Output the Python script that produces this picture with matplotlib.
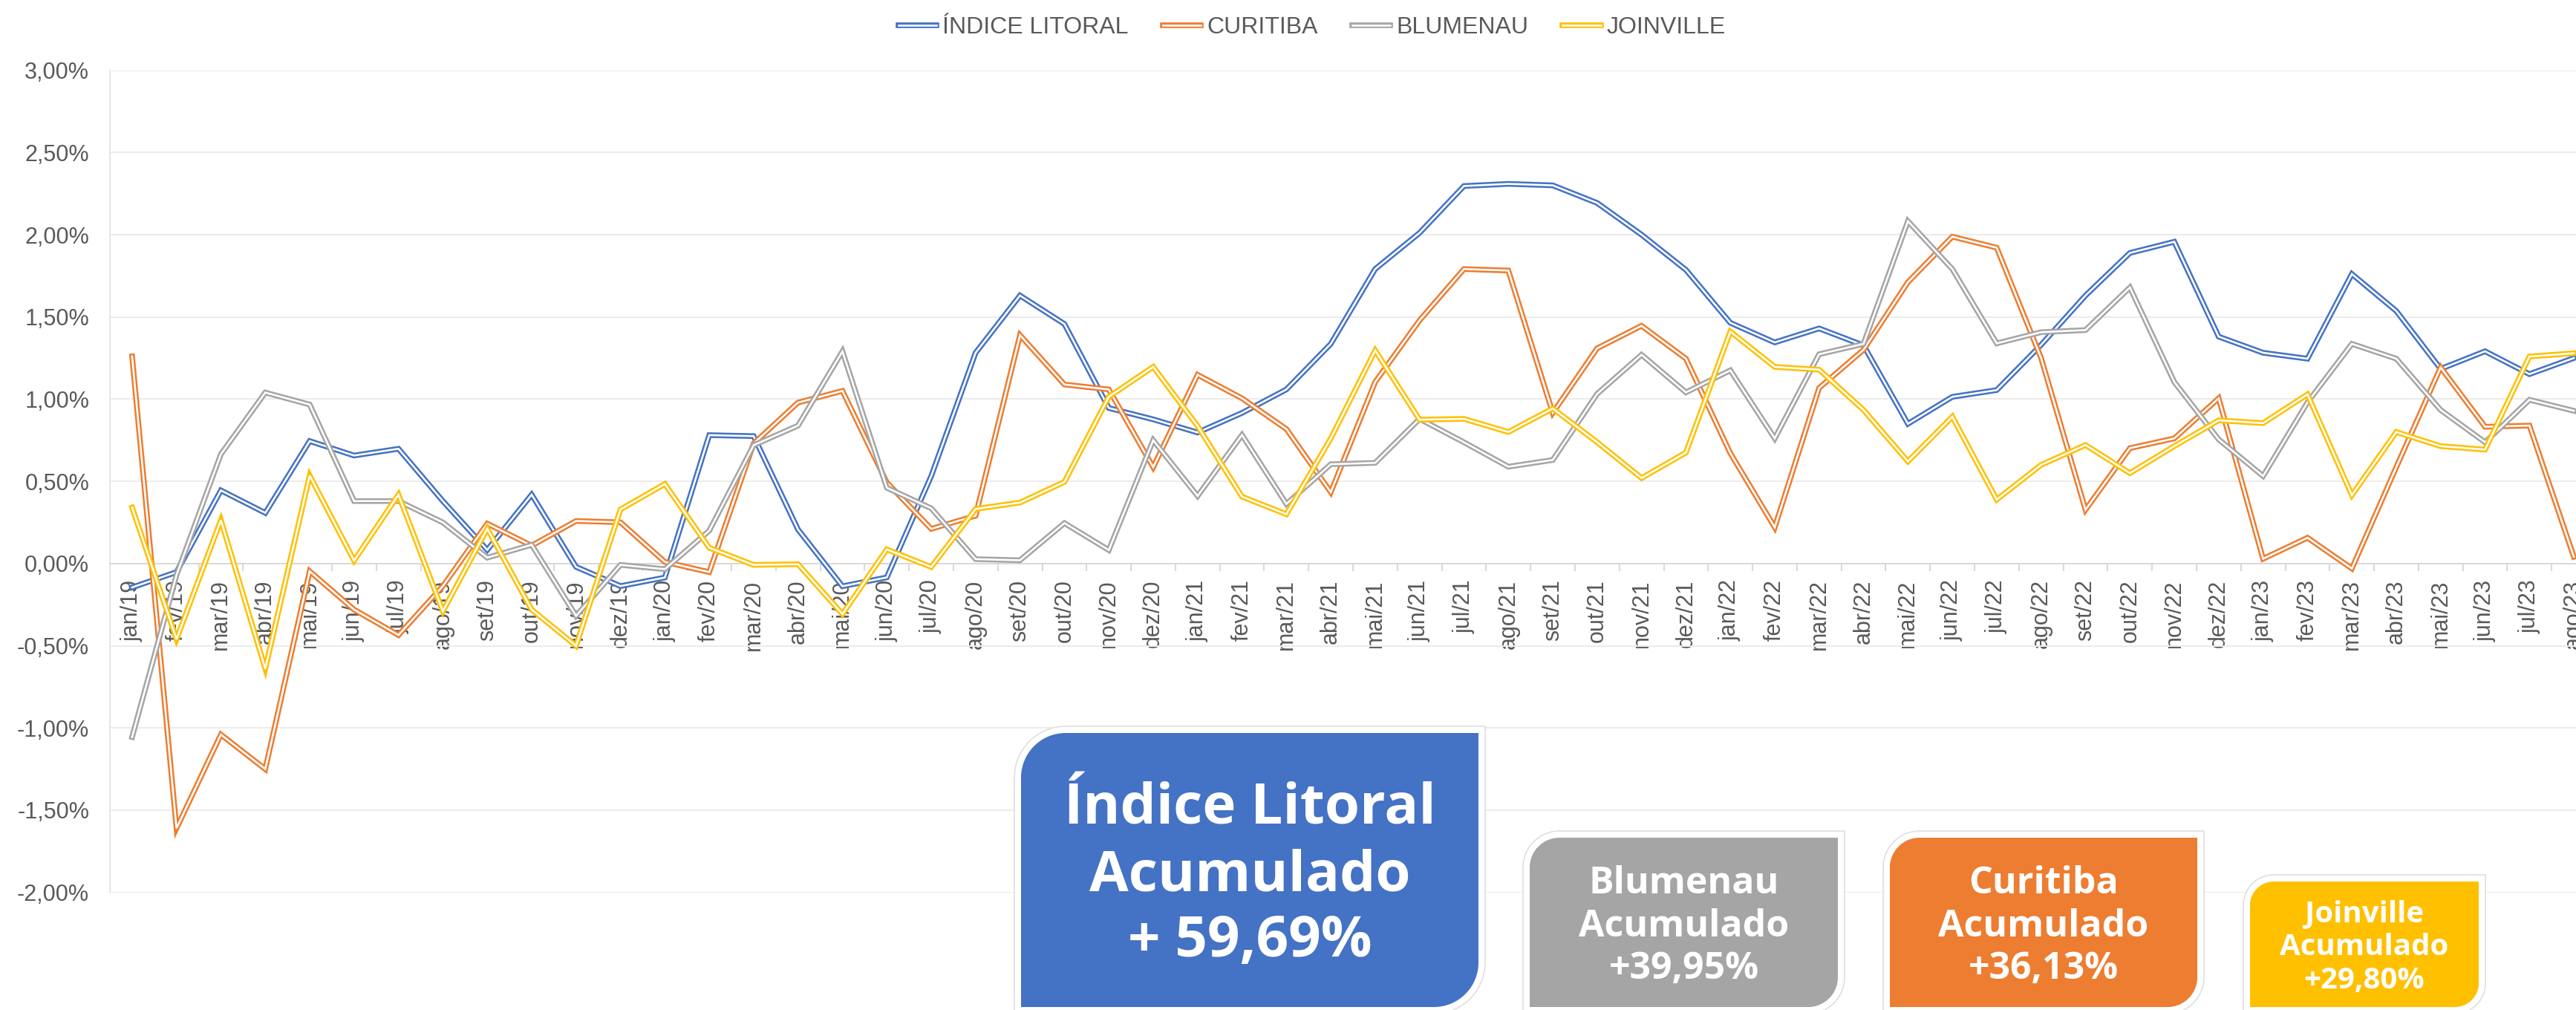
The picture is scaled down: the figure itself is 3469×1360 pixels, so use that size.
import matplotlib
matplotlib.use("Agg")
import matplotlib.pyplot as plt
from matplotlib.lines import Line2D
from matplotlib.path import Path
from matplotlib.patches import PathPatch
import numpy as np

plt.rcParams['font.family'] = ['Liberation Sans', 'DejaVu Sans']

# ---------------- data ----------------
meses = ["jan", "fev", "mar", "abr", "mai", "jun", "jul", "ago", "set", "out", "nov", "dez"]
anos = ["19", "20", "21", "22", "23"]
categorias = [f"{m}/{a}" for a in anos for m in meses][:56]   # jan/19 .. ago/23

indice_litoral = [-0.145, -0.052, 0.445, 0.308, 0.745, 0.657, 0.698, 0.38, 0.083, 0.419,
                  -0.02, -0.137, -0.085, 0.781, 0.775, 0.207, -0.138, -0.084, 0.532, 1.282,
                  1.63, 1.457, 0.946, 0.877, 0.797, 0.916, 1.059, 1.336, 1.791, 2.011,
                  2.296, 2.309, 2.30, 2.193, 2.00, 1.786, 1.464, 1.345, 1.43, 1.327,
                  0.85, 1.014, 1.055, 1.33, 1.63, 1.889, 1.957, 1.38, 1.282, 1.246,
                  1.761, 1.536, 1.184, 1.291, 1.152, 1.25]
curitiba = [1.26, -1.61, -1.04, -1.25, -0.047, -0.28, -0.435, -0.137, 0.243, 0.109,
            0.259, 0.251, 0.01, -0.052, 0.73, 0.979, 1.05, 0.493, 0.211, 0.291,
            1.389, 1.089, 1.059, 0.586, 1.148, 1.005, 0.818, 0.434, 1.104, 1.479,
            1.791, 1.782, 0.916, 1.309, 1.446, 1.246, 0.671, 0.22, 1.068, 1.30,
            1.711, 1.988, 1.921, 1.25, 0.327, 0.702, 0.761, 1.005, 0.029, 0.157,
            -0.03, 0.586, 1.193, 0.832, 0.839, 0.041]
blumenau = [-1.055, -0.07, 0.665, 1.04, 0.967, 0.38, 0.38, 0.25, 0.036, 0.114,
            -0.318, -0.008, -0.034, 0.20, 0.72, 0.839, 1.29, 0.461, 0.336, 0.027,
            0.02, 0.246, 0.082, 0.75, 0.411, 0.782, 0.3625, 0.604, 0.6125, 0.88,
            0.7375, 0.589, 0.63, 1.032, 1.27, 1.041, 1.175, 0.761, 1.273, 1.336,
            2.082, 1.791, 1.339, 1.407, 1.42, 1.679, 1.104, 0.755, 0.532, 0.98,
            1.336, 1.246, 0.934, 0.7375, 0.996, 0.929]
joinville = [0.341, -0.46, 0.264, -0.64, 0.535, 0.018, 0.419, -0.29, 0.212, -0.28,
             -0.50, 0.329, 0.484, 0.096, -0.008, -0.004, -0.307, 0.086, -0.021, 0.332,
             0.371, 0.496, 1.014, 1.196, 0.836, 0.407, 0.30, 0.761, 1.296, 0.875,
             0.88, 0.80, 0.943, 0.738, 0.52, 0.675, 1.411, 1.196, 1.179, 0.934,
             0.621, 0.893, 0.389, 0.60, 0.721, 0.55, 0.714, 0.871, 0.854, 1.029,
             0.416, 0.80, 0.714, 0.693, 1.259, 1.279]

series_nomes = ["ÍNDICE LITORAL", "CURITIBA", "BLUMENAU", "JOINVILLE"]
series_vals = [indice_litoral, curitiba, blumenau, joinville]
series_cores = ["#4472C4", "#ED7D31", "#A5A5A5", "#FFC000"]

y_ticks = [-2.0, -1.5, -1.0, -0.5, 0.0, 0.5, 1.0, 1.5, 2.0, 2.5, 3.0]
y_labels = ["-2,00%", "-1,50%", "-1,00%", "-0,50%", "0,00%", "0,50%", "1,00%",
            "1,50%", "2,00%", "2,50%", "3,00%"]

caixas_textos = [["Índice Litoral", "Acumulado", "+ 59,69%"],
                 ["Blumenau", "Acumulado", "+39,95%"],
                 ["Curitiba", "Acumulado", "+36,13%"],
                 ["Joinville", "Acumulado", "+29,80%"]]
caixas_cores = ["#4472C4", "#A5A5A5", "#ED7D31", "#FFC000"]

# ---------------- figure ----------------
W, H = 3469, 1360
DPI = 100
PX = 72.0 / DPI
fig = plt.figure(figsize=(W / DPI, H / DPI), dpi=DPI)
fig.patch.set_facecolor("white")

ax_left, ax_right = 148, 3496
ax_top, ax_bot = 94.6, 1201.7
ax = fig.add_axes([ax_left / W, 1 - ax_bot / H, (ax_right - ax_left) / W, (ax_bot - ax_top) / H])
ax.set_facecolor("white")

x = np.arange(len(categorias))
handles = []
for nome, vals, cor in zip(series_nomes, series_vals, series_cores):
    ax.plot(x, vals, color=cor, lw=7.6 * PX, solid_joinstyle="miter", zorder=3)
    ax.plot(x, vals, color="white", lw=2.6 * PX, solid_joinstyle="miter", zorder=3)
    h1 = Line2D([], [], color=cor, lw=7.6 * PX)
    h2 = Line2D([], [], color="white", lw=2.6 * PX)
    handles.append((h1, h2))

ax.set_xlim(-0.5, len(categorias) - 0.5)
ax.set_ylim(-2.0, 3.0)

ax.set_yticks(y_ticks)
ax.set_yticklabels(y_labels)
ax.tick_params(axis="y", length=0, pad=20, labelsize=22, labelcolor="#595959")
ax.yaxis.grid(True, color="#EBEBEB", lw=2 * PX)
ax.set_axisbelow(True)

ax.set_xticks(x)
ax.set_xticklabels(categorias)
ax.tick_params(axis="x", which="major", length=0, pad=15.5, labelsize=22,
               labelcolor="#595959", labelrotation=90)
ax.set_xticks(np.arange(-0.5, len(categorias), 1.0), minor=True)
ax.tick_params(axis="x", which="minor", length=10 * PX, width=2 * PX, color="#D9D9D9", direction="out")

for s in ["top", "right"]:
    ax.spines[s].set_visible(False)
ax.spines["left"].set_color("#E6E6E6")
ax.spines["left"].set_linewidth(2 * PX)
ax.spines["bottom"].set_position(("data", 0))
ax.spines["bottom"].set_color("#D9D9D9")
ax.spines["bottom"].set_linewidth(2 * PX)

leg = ax.legend(handles, series_nomes, loc="center", bbox_to_anchor=(1767 / W, 1 - 37 / H),
                bbox_transform=fig.transFigure, ncol=4, frameon=False, fontsize=23,
                handlelength=1.6, handletextpad=0.25, columnspacing=1.45, borderpad=0)
for t in leg.get_texts():
    t.set_color("#595959")

# ---------------- callout boxes ----------------
K = 0.5523


def diag_path(x0, y0, x1, y1, r):
    def P(px, py):
        return (px / W, 1 - py / H)
    verts = [P(x0, y0 + r),
             P(x0, y0 + r - K * r), P(x0 + r - K * r, y0), P(x0 + r, y0),
             P(x1, y0),
             P(x1, y1 - r),
             P(x1, y1 - r + K * r), P(x1 - r + K * r, y1), P(x1 - r, y1),
             P(x0, y1),
             P(x0, y0 + r)]
    codes = [Path.MOVETO,
             Path.CURVE4, Path.CURVE4, Path.CURVE4,
             Path.LINETO,
             Path.LINETO,
             Path.CURVE4, Path.CURVE4, Path.CURVE4,
             Path.LINETO,
             Path.CLOSEPOLY]
    return Path(verts, codes)


caixas_geo = [(1375, 987, 1991, 1356, 60), (2060, 1128, 2475, 1356, 40),
              (2545, 1128, 2959, 1356, 40), (3030, 1187, 3338, 1356, 32)]
caixas_baselines = [[1110, 1199, 1288], [1203, 1261, 1318], [1203, 1261, 1318], [1241, 1286, 1331]]
caixas_fontes = [55, 36, 36, 29]

for (x0, y0, x1, y1, r), cor, linhas, bls, fs in zip(caixas_geo, caixas_cores, caixas_textos,
                                                     caixas_baselines, caixas_fontes):
    d = 9
    glow = PathPatch(diag_path(x0 - d, y0 - d, x1 + d, y1 + d, r + d), facecolor="white",
                     edgecolor="#DCDCDC", lw=1.5 * PX, transform=fig.transFigure, zorder=5)
    fig.add_artist(glow)
    box = PathPatch(diag_path(x0, y0, x1, y1, r), facecolor=cor, edgecolor="none",
                    transform=fig.transFigure, zorder=6)
    fig.add_artist(box)
    cx = (x0 + x1) / 2
    for linha, b in zip(linhas, bls):
        fig.text(cx / W, 1 - b / H, linha, ha="center", va="baseline", color="white",
                 fontsize=fs, fontweight="bold", family=["Open Sans", "DejaVu Sans"], zorder=7)

fig.savefig("out.png", dpi=DPI, facecolor="white")
